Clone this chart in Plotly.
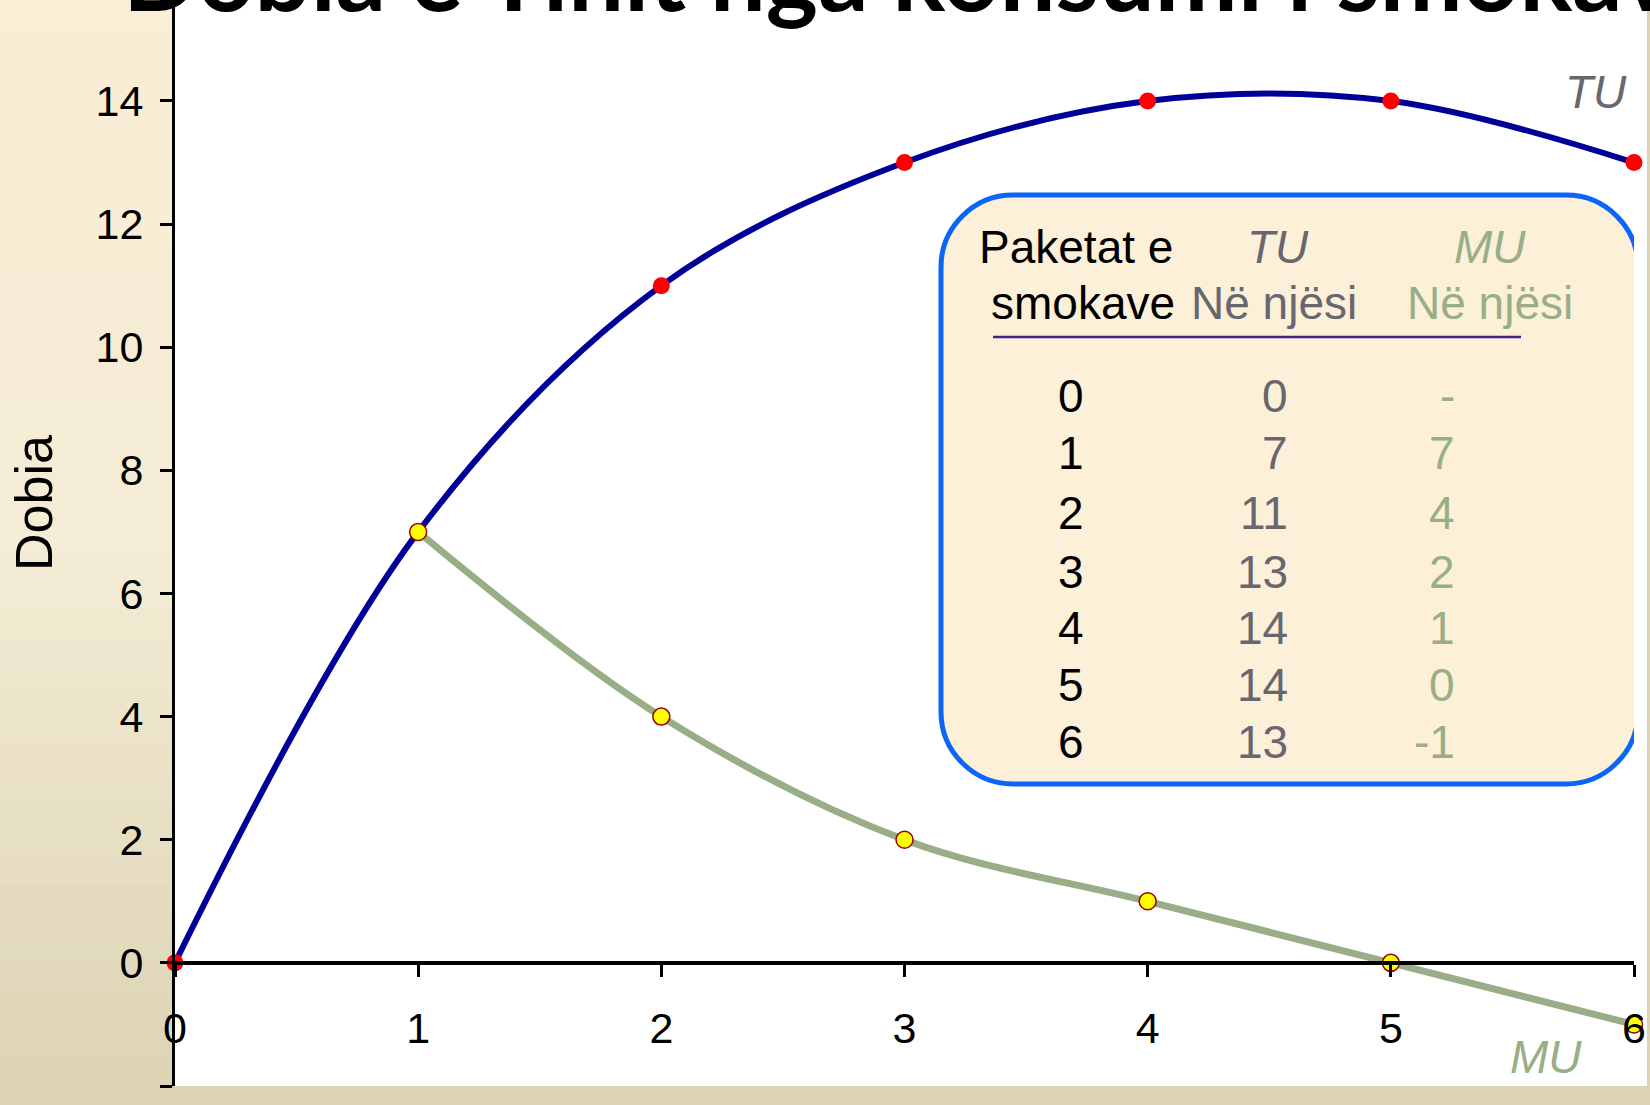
import plotly.graph_objects as go

# data
packets = [0, 1, 2, 3, 4, 5, 6]
tu = [0, 7, 11, 13, 14, 14, 13]
mu_x = [1, 2, 3, 4, 5, 6]
mu = [7, 4, 2, 1, 0, -1]
mu_text = ["-", "7", "4", "2", "1", "0", "-1"]
y_ticks = [-2, 0, 2, 4, 6, 8, 10, 12, 14]

title = "Dobia e Tinit nga konsumi i smokave"
y_title = "Dobia"

W, H = 1650, 1105
L, R, T, B = 175, 16, 0, 19
Y_MIN, Y_MAX = -2, 15.64
pw = W - L - R
ph = H - T - B
xu = pw / 6.0
yu = ph / (Y_MAX - Y_MIN)


def dx(px):
    return (px - L) / xu


def dy(py):
    return Y_MAX - (py - T) / yu


def pxx(px):
    return (px - L) / pw


def pxy(py):
    return 1 - (py - T) / ph


GRAY = "#68666E"
SAGE = "#98AE86"
NAVY = "#000099"
FONT = "Liberation Sans, Arial, sans-serif"

fig = go.Figure()

fig.add_trace(go.Scatter(
    x=packets, y=tu, mode="lines+markers",
    line=dict(color=NAVY, width=6, shape="spline", smoothing=1),
    marker=dict(color="#FF0000", size=17),
    cliponaxis=False, showlegend=False))

fig.add_trace(go.Scatter(
    x=mu_x, y=mu, mode="lines+markers",
    line=dict(color=SAGE, width=7, shape="spline", smoothing=1),
    marker=dict(color="#FFFF00", size=17, line=dict(color="#990000", width=1.5)),
    cliponaxis=False, showlegend=False))

shapes = []

# background gradient on the left margin
top_c = (251, 238, 214)
mid_c = (244, 236, 213)
bot_c = (221, 212, 181)
n = 40
for i in range(n):
    t = i / (n - 1)
    if t < 0.5:
        a, b, u = top_c, mid_c, t / 0.5
    else:
        a, b, u = mid_c, bot_c, (t - 0.5) / 0.5
    c = tuple(int(a[k] + (b[k] - a[k]) * u) for k in range(3))
    y0 = H * i / n
    y1 = H * (i + 1) / n + 1
    shapes.append(dict(type="rect", xref="paper", yref="paper",
                       x0=pxx(0), x1=0, y0=pxy(y1), y1=pxy(y0),
                       fillcolor="rgb(%d,%d,%d)" % c, line_width=0, layer="below"))

# white strip right of the plot
shapes.append(dict(type="rect", xref="paper", yref="paper",
                   x0=1, x1=pxx(1647), y0=0, y1=1,
                   fillcolor="white", line_width=0, layer="below"))

# rounded table box
bx0, bx1, by0, by1, r = 941, 1638, 195, 784, 72
k = 0.55 * r
pts = [
    ("M", [(bx0 + r, by0)]),
    ("L", [(bx1 - r, by0)]),
    ("C", [(bx1 - r + k, by0), (bx1, by0 + r - k), (bx1, by0 + r)]),
    ("L", [(bx1, by1 - r)]),
    ("C", [(bx1, by1 - r + k), (bx1 - r + k, by1), (bx1 - r, by1)]),
    ("L", [(bx0 + r, by1)]),
    ("C", [(bx0 + r - k, by1), (bx0, by1 - r + k), (bx0, by1 - r)]),
    ("L", [(bx0, by0 + r)]),
    ("C", [(bx0, by0 + r - k), (bx0 + r - k, by0), (bx0 + r, by0)]),
]
path = ""
for cmd, ps in pts:
    path += cmd + " ".join("%.4f,%.4f" % (dx(a), dy(b)) for a, b in ps) + " "
path += "Z"
shapes.append(dict(type="path", xref="x", yref="y", path=path,
                   fillcolor="#FCF0D8", line=dict(color="#0A66F8", width=5), layer="above"))

# header underline
shapes.append(dict(type="line", xref="x", yref="y",
                   x0=dx(993), x1=dx(1521), y0=dy(337), y1=dy(337),
                   line=dict(color="#4A1E8E", width=2.5), layer="above"))

ann = []


def txt(s, px, py, size, color, xanchor="center", italic=False, font=FONT):
    ann.append(dict(text=("<i>%s</i>" % s) if italic else s, xref="x", yref="y",
                    x=dx(px), y=dy(py), xanchor=xanchor, yanchor="middle",
                    showarrow=False, font=dict(family=font, size=size, color=color)))


fs = 46
off = 15
txt("Paketat e", 1076, 262 - off, fs, "black")
txt("smokave", 1083, 318 - off, fs, "black")
txt("TU", 1278, 262 - off, fs, GRAY, italic=True)
txt("Në njësi", 1274, 318 - off, fs, GRAY)
txt("MU", 1490, 262 - off, fs, SAGE, italic=True)
txt("Në njësi", 1490, 318 - off, fs, SAGE)

row_base = [411, 468, 528, 587, 643, 700, 757]
for i, p in enumerate(packets):
    txt(str(p), 1071, row_base[i] - off, fs, "black")
    txt(str(tu[i]), 1290, row_base[i] - off, fs, GRAY, xanchor="right")
    txt(mu_text[i], 1457, row_base[i] - off, fs, SAGE, xanchor="right")

# curve labels
txt("TU", 1596, 92, fs, GRAY, italic=True)
txt("MU", 1546, 1057, fs, SAGE, italic=True)

# title, cut off at the top edge
ann.append(dict(text="<b>%s</b>" % title, xref="paper", yref="paper",
                x=pxx(121), y=pxy(12), xanchor="left", yanchor="bottom", yshift=-22,
                showarrow=False, font=dict(family="Lato, Open Sans, sans-serif", size=99, color="black")))

# y axis title
ann.append(dict(text=y_title, xref="paper", yref="paper",
                x=pxx(34), y=pxy(503), xanchor="center", yanchor="middle",
                textangle=-90, showarrow=False,
                font=dict(family=FONT, size=52, color="black")))

fig.update_layout(
    width=W, height=H,
    margin=dict(l=L, r=R, t=T, b=B, pad=0),
    paper_bgcolor="#DCD3B3",
    plot_bgcolor="white",
    shapes=shapes,
    annotations=ann,
    xaxis=dict(range=[0, 6], tickvals=packets, showgrid=False, zeroline=False,
               showline=True, linecolor="black", linewidth=4,
               ticks="outside", ticklen=12, tickwidth=3, tickcolor="black",
               tickfont=dict(family=FONT, size=43, color="black"),
               ticklabelstandoff=15,
               anchor="free", position=(0 - Y_MIN) / (Y_MAX - Y_MIN)),
    yaxis=dict(range=[Y_MIN, Y_MAX], tickvals=y_ticks, showgrid=False, zeroline=False,
               showline=True, linecolor="black", linewidth=3,
               ticks="outside", ticklen=12, tickwidth=3, tickcolor="black",
               tickfont=dict(family=FONT, size=43, color="black"),
               ticklabelstandoff=8),
)

fig.write_html("out.html", config={"displayModeBar": False},
               post_script="document.body.style.margin='0';")
